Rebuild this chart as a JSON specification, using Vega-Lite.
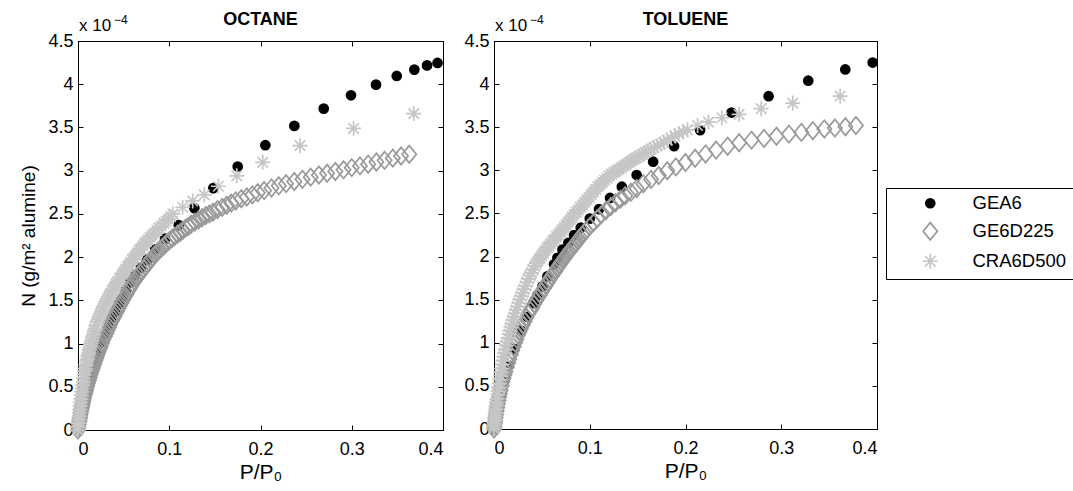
{
  "$schema": "https://vega.github.io/schema/vega-lite/v6.json",
  "background": "white",
  "padding": {"left": 19, "top": 10, "right": 0, "bottom": 0},
  "bounds": "flush",
  "spacing": 51,
  "config": {
    "font": "Liberation Sans",
    "view": {"stroke": "black", "strokeWidth": 1},
    "axis": {"grid": false, "labelFont": "Liberation Sans", "labelFontSize": 18, "labelColor": "black", "titleFont": "Liberation Sans", "titleFontSize": 19, "titleFontWeight": "normal", "titleColor": "black", "domainColor": "black", "tickColor": "black", "tickSize": -5, "format": "~g"},
    "title": {"font": "Liberation Sans", "fontSize": 18, "fontWeight": "bold", "color": "black"},
    "legend": {"labelFont": "Liberation Sans", "labelFontSize": 18.5, "labelColor": "black", "strokeColor": "black", "fillColor": "white", "padding": 6, "symbolSize": 225, "symbolStrokeWidth": 1.7, "rowPadding": 6}
  },
  "datasets": {
    "sup": [{"a": "x 10", "b": "−4"}],
    "oct": [
      {"s":"GEA6","p":0.001,"n":0.06},{"s":"GEA6","p":0.003,"n":0.18},{"s":"GEA6","p":0.006,"n":0.34},{"s":"GEA6","p":0.009,"n":0.48},{"s":"GEA6","p":0.013,"n":0.64},{"s":"GEA6","p":0.017,"n":0.78},{"s":"GEA6","p":0.021,"n":0.9},{"s":"GEA6","p":0.025,"n":1.01},{"s":"GEA6","p":0.029,"n":1.11},{"s":"GEA6","p":0.033,"n":1.21},{"s":"GEA6","p":0.037,"n":1.3},{"s":"GEA6","p":0.041,"n":1.38},{"s":"GEA6","p":0.045,"n":1.46},{"s":"GEA6","p":0.049,"n":1.53},{"s":"GEA6","p":0.0526,"n":1.62},{"s":"GEA6","p":0.057,"n":1.71},{"s":"GEA6","p":0.0622,"n":1.79},{"s":"GEA6","p":0.069,"n":1.88},{"s":"GEA6","p":0.0756,"n":1.967},{"s":"GEA6","p":0.0847,"n":2.09},{"s":"GEA6","p":0.0954,"n":2.213},{"s":"GEA6","p":0.1104,"n":2.371},{"s":"GEA6","p":0.1275,"n":2.567},{"s":"GEA6","p":0.1483,"n":2.798},{"s":"GEA6","p":0.175,"n":3.048},{"s":"GEA6","p":0.2053,"n":3.295},{"s":"GEA6","p":0.2371,"n":3.518},{"s":"GEA6","p":0.2693,"n":3.718},{"s":"GEA6","p":0.2992,"n":3.872},{"s":"GEA6","p":0.3266,"n":3.995},{"s":"GEA6","p":0.3493,"n":4.096},{"s":"GEA6","p":0.3686,"n":4.169},{"s":"GEA6","p":0.3825,"n":4.218},{"s":"GEA6","p":0.394,"n":4.246},
      {"s":"GE6D225","p":0,"n":0},{"s":"GE6D225","p":0.0005,"n":0.035},{"s":"GE6D225","p":0.001,"n":0.07},{"s":"GE6D225","p":0.0015,"n":0.1},{"s":"GE6D225","p":0.002,"n":0.13},{"s":"GE6D225","p":0.0025,"n":0.16},{"s":"GE6D225","p":0.003,"n":0.19},{"s":"GE6D225","p":0.0035,"n":0.22},{"s":"GE6D225","p":0.004,"n":0.245},{"s":"GE6D225","p":0.0045,"n":0.27},{"s":"GE6D225","p":0.005,"n":0.295},{"s":"GE6D225","p":0.0055,"n":0.32},{"s":"GE6D225","p":0.006,"n":0.34},{"s":"GE6D225","p":0.0065,"n":0.365},{"s":"GE6D225","p":0.007,"n":0.39},{"s":"GE6D225","p":0.0075,"n":0.41},{"s":"GE6D225","p":0.008,"n":0.43},{"s":"GE6D225","p":0.0085,"n":0.45},{"s":"GE6D225","p":0.009,"n":0.47},{"s":"GE6D225","p":0.01,"n":0.505},{"s":"GE6D225","p":0.011,"n":0.54},{"s":"GE6D225","p":0.012,"n":0.575},{"s":"GE6D225","p":0.013,"n":0.61},{"s":"GE6D225","p":0.014,"n":0.645},{"s":"GE6D225","p":0.015,"n":0.68},{"s":"GE6D225","p":0.016,"n":0.71},{"s":"GE6D225","p":0.017,"n":0.74},{"s":"GE6D225","p":0.018,"n":0.77},{"s":"GE6D225","p":0.019,"n":0.8},{"s":"GE6D225","p":0.02,"n":0.83},{"s":"GE6D225","p":0.021,"n":0.86},{"s":"GE6D225","p":0.022,"n":0.89},{"s":"GE6D225","p":0.023,"n":0.92},{"s":"GE6D225","p":0.024,"n":0.945},{"s":"GE6D225","p":0.025,"n":0.97},{"s":"GE6D225","p":0.0265,"n":1.01},{"s":"GE6D225","p":0.028,"n":1.05},{"s":"GE6D225","p":0.0295,"n":1.085},{"s":"GE6D225","p":0.031,"n":1.12},{"s":"GE6D225","p":0.0325,"n":1.155},{"s":"GE6D225","p":0.034,"n":1.19},{"s":"GE6D225","p":0.0355,"n":1.225},{"s":"GE6D225","p":0.037,"n":1.26},{"s":"GE6D225","p":0.0385,"n":1.29},{"s":"GE6D225","p":0.04,"n":1.32},{"s":"GE6D225","p":0.0415,"n":1.35},{"s":"GE6D225","p":0.043,"n":1.38},{"s":"GE6D225","p":0.0445,"n":1.41},{"s":"GE6D225","p":0.046,"n":1.44},{"s":"GE6D225","p":0.0475,"n":1.47},{"s":"GE6D225","p":0.049,"n":1.5},{"s":"GE6D225","p":0.0505,"n":1.53},{"s":"GE6D225","p":0.052,"n":1.555},{"s":"GE6D225","p":0.0535,"n":1.58},{"s":"GE6D225","p":0.055,"n":1.61},{"s":"GE6D225","p":0.0565,"n":1.635},{"s":"GE6D225","p":0.058,"n":1.66},{"s":"GE6D225","p":0.06,"n":1.695},{"s":"GE6D225","p":0.062,"n":1.725},{"s":"GE6D225","p":0.064,"n":1.755},{"s":"GE6D225","p":0.066,"n":1.785},{"s":"GE6D225","p":0.068,"n":1.815},{"s":"GE6D225","p":0.07,"n":1.84},{"s":"GE6D225","p":0.072,"n":1.865},{"s":"GE6D225","p":0.074,"n":1.895},{"s":"GE6D225","p":0.076,"n":1.92},{"s":"GE6D225","p":0.078,"n":1.945},{"s":"GE6D225","p":0.08,"n":1.975},{"s":"GE6D225","p":0.082,"n":2.0},{"s":"GE6D225","p":0.0845,"n":2.03},{"s":"GE6D225","p":0.087,"n":2.06},{"s":"GE6D225","p":0.0895,"n":2.085},{"s":"GE6D225","p":0.092,"n":2.11},{"s":"GE6D225","p":0.0945,"n":2.135},{"s":"GE6D225","p":0.097,"n":2.16},{"s":"GE6D225","p":0.1,"n":2.19},{"s":"GE6D225","p":0.103,"n":2.215},{"s":"GE6D225","p":0.106,"n":2.24},{"s":"GE6D225","p":0.109,"n":2.265},{"s":"GE6D225","p":0.112,"n":2.285},{"s":"GE6D225","p":0.115,"n":2.31},{"s":"GE6D225","p":0.118,"n":2.335},{"s":"GE6D225","p":0.121,"n":2.355},{"s":"GE6D225","p":0.124,"n":2.38},{"s":"GE6D225","p":0.128,"n":2.405},{"s":"GE6D225","p":0.132,"n":2.43},{"s":"GE6D225","p":0.136,"n":2.455},{"s":"GE6D225","p":0.14,"n":2.48},{"s":"GE6D225","p":0.144,"n":2.5},{"s":"GE6D225","p":0.148,"n":2.52},{"s":"GE6D225","p":0.153,"n":2.55},{"s":"GE6D225","p":0.158,"n":2.575},{"s":"GE6D225","p":0.163,"n":2.6},{"s":"GE6D225","p":0.168,"n":2.625},{"s":"GE6D225","p":0.173,"n":2.65},{"s":"GE6D225","p":0.179,"n":2.675},{"s":"GE6D225","p":0.185,"n":2.695},{"s":"GE6D225","p":0.191,"n":2.72},{"s":"GE6D225","p":0.197,"n":2.745},{"s":"GE6D225","p":0.204,"n":2.77},{"s":"GE6D225","p":0.212,"n":2.8},{"s":"GE6D225","p":0.22,"n":2.825},{"s":"GE6D225","p":0.228,"n":2.85},{"s":"GE6D225","p":0.237,"n":2.875},{"s":"GE6D225","p":0.246,"n":2.9},{"s":"GE6D225","p":0.255,"n":2.925},{"s":"GE6D225","p":0.264,"n":2.95},{"s":"GE6D225","p":0.273,"n":2.97},{"s":"GE6D225","p":0.282,"n":2.99},{"s":"GE6D225","p":0.291,"n":3.01},{"s":"GE6D225","p":0.3,"n":3.035},{"s":"GE6D225","p":0.309,"n":3.055},{"s":"GE6D225","p":0.318,"n":3.075},{"s":"GE6D225","p":0.327,"n":3.1},{"s":"GE6D225","p":0.336,"n":3.12},{"s":"GE6D225","p":0.345,"n":3.145},{"s":"GE6D225","p":0.354,"n":3.17},{"s":"GE6D225","p":0.363,"n":3.19},
      {"s":"CRA6D500","p":0,"n":0},{"s":"CRA6D500","p":0.0003,"n":0.04},{"s":"CRA6D500","p":0.0006,"n":0.08},{"s":"CRA6D500","p":0.0009,"n":0.12},{"s":"CRA6D500","p":0.0013,"n":0.16},{"s":"CRA6D500","p":0.0016,"n":0.2},{"s":"CRA6D500","p":0.002,"n":0.24},{"s":"CRA6D500","p":0.0024,"n":0.28},{"s":"CRA6D500","p":0.0028,"n":0.32},{"s":"CRA6D500","p":0.0032,"n":0.36},{"s":"CRA6D500","p":0.0036,"n":0.4},{"s":"CRA6D500","p":0.0041,"n":0.44},{"s":"CRA6D500","p":0.0046,"n":0.48},{"s":"CRA6D500","p":0.0051,"n":0.52},{"s":"CRA6D500","p":0.0056,"n":0.56},{"s":"CRA6D500","p":0.0062,"n":0.6},{"s":"CRA6D500","p":0.0068,"n":0.64},{"s":"CRA6D500","p":0.0074,"n":0.68},{"s":"CRA6D500","p":0.008,"n":0.71},{"s":"CRA6D500","p":0.0087,"n":0.75},{"s":"CRA6D500","p":0.0094,"n":0.79},{"s":"CRA6D500","p":0.0101,"n":0.82},{"s":"CRA6D500","p":0.0108,"n":0.86},{"s":"CRA6D500","p":0.0116,"n":0.89},{"s":"CRA6D500","p":0.0124,"n":0.93},{"s":"CRA6D500","p":0.0132,"n":0.96},{"s":"CRA6D500","p":0.014,"n":1.0},{"s":"CRA6D500","p":0.0149,"n":1.03},{"s":"CRA6D500","p":0.0158,"n":1.07},{"s":"CRA6D500","p":0.0168,"n":1.1},{"s":"CRA6D500","p":0.0178,"n":1.14},{"s":"CRA6D500","p":0.0188,"n":1.17},{"s":"CRA6D500","p":0.0199,"n":1.21},{"s":"CRA6D500","p":0.021,"n":1.25},{"s":"CRA6D500","p":0.0222,"n":1.28},{"s":"CRA6D500","p":0.0234,"n":1.31},{"s":"CRA6D500","p":0.0246,"n":1.34},{"s":"CRA6D500","p":0.0258,"n":1.37},{"s":"CRA6D500","p":0.0271,"n":1.4},{"s":"CRA6D500","p":0.0284,"n":1.43},{"s":"CRA6D500","p":0.0298,"n":1.46},{"s":"CRA6D500","p":0.0312,"n":1.49},{"s":"CRA6D500","p":0.0327,"n":1.52},{"s":"CRA6D500","p":0.0342,"n":1.55},{"s":"CRA6D500","p":0.0357,"n":1.58},{"s":"CRA6D500","p":0.0372,"n":1.61},{"s":"CRA6D500","p":0.0388,"n":1.63},{"s":"CRA6D500","p":0.0404,"n":1.66},{"s":"CRA6D500","p":0.042,"n":1.69},{"s":"CRA6D500","p":0.0437,"n":1.72},{"s":"CRA6D500","p":0.0454,"n":1.75},{"s":"CRA6D500","p":0.0471,"n":1.77},{"s":"CRA6D500","p":0.0488,"n":1.8},{"s":"CRA6D500","p":0.0506,"n":1.83},{"s":"CRA6D500","p":0.0524,"n":1.86},{"s":"CRA6D500","p":0.0542,"n":1.89},{"s":"CRA6D500","p":0.056,"n":1.91},{"s":"CRA6D500","p":0.0578,"n":1.94},{"s":"CRA6D500","p":0.0596,"n":1.97},{"s":"CRA6D500","p":0.0614,"n":1.99},{"s":"CRA6D500","p":0.0633,"n":2.02},{"s":"CRA6D500","p":0.0652,"n":2.05},{"s":"CRA6D500","p":0.0671,"n":2.08},{"s":"CRA6D500","p":0.069,"n":2.1},{"s":"CRA6D500","p":0.071,"n":2.13},{"s":"CRA6D500","p":0.073,"n":2.155},{"s":"CRA6D500","p":0.075,"n":2.18},{"s":"CRA6D500","p":0.077,"n":2.2},{"s":"CRA6D500","p":0.079,"n":2.23},{"s":"CRA6D500","p":0.0815,"n":2.255},{"s":"CRA6D500","p":0.084,"n":2.28},{"s":"CRA6D500","p":0.0865,"n":2.31},{"s":"CRA6D500","p":0.089,"n":2.335},{"s":"CRA6D500","p":0.0915,"n":2.36},{"s":"CRA6D500","p":0.094,"n":2.39},{"s":"CRA6D500","p":0.0965,"n":2.415},{"s":"CRA6D500","p":0.099,"n":2.44},{"s":"CRA6D500","p":0.1015,"n":2.47},{"s":"CRA6D500","p":0.104,"n":2.5},{"s":"CRA6D500","p":0.1147,"n":2.577},{"s":"CRA6D500","p":0.1257,"n":2.65},{"s":"CRA6D500","p":0.1384,"n":2.72},{"s":"CRA6D500","p":0.1538,"n":2.82},{"s":"CRA6D500","p":0.174,"n":2.94},{"s":"CRA6D500","p":0.2024,"n":3.097},{"s":"CRA6D500","p":0.2433,"n":3.289},{"s":"CRA6D500","p":0.302,"n":3.49},{"s":"CRA6D500","p":0.368,"n":3.66}
    ],
    "tol": [
      {"s":"GEA6","p":0,"n":0},{"s":"GEA6","p":0.0015,"n":0.1},{"s":"GEA6","p":0.003,"n":0.2},{"s":"GEA6","p":0.006,"n":0.37},{"s":"GEA6","p":0.01,"n":0.55},{"s":"GEA6","p":0.015,"n":0.74},{"s":"GEA6","p":0.021,"n":0.93},{"s":"GEA6","p":0.028,"n":1.14},{"s":"GEA6","p":0.035,"n":1.3},{"s":"GEA6","p":0.0418,"n":1.46},{"s":"GEA6","p":0.0454,"n":1.55},{"s":"GEA6","p":0.0506,"n":1.655},{"s":"GEA6","p":0.0558,"n":1.77},{"s":"GEA6","p":0.0627,"n":1.91},{"s":"GEA6","p":0.0662,"n":1.985},{"s":"GEA6","p":0.0715,"n":2.08},{"s":"GEA6","p":0.0777,"n":2.16},{"s":"GEA6","p":0.0836,"n":2.25},{"s":"GEA6","p":0.0906,"n":2.335},{"s":"GEA6","p":0.1,"n":2.44},{"s":"GEA6","p":0.1097,"n":2.55},{"s":"GEA6","p":0.1212,"n":2.68},{"s":"GEA6","p":0.1335,"n":2.81},{"s":"GEA6","p":0.149,"n":2.946},{"s":"GEA6","p":0.1662,"n":3.1},{"s":"GEA6","p":0.1881,"n":3.28},{"s":"GEA6","p":0.2153,"n":3.466},{"s":"GEA6","p":0.2481,"n":3.67},{"s":"GEA6","p":0.2868,"n":3.86},{"s":"GEA6","p":0.3282,"n":4.04},{"s":"GEA6","p":0.3669,"n":4.17},{"s":"GEA6","p":0.3955,"n":4.25},
      {"s":"GE6D225","p":0,"n":0},{"s":"GE6D225","p":0.0004,"n":0.03},{"s":"GE6D225","p":0.0008,"n":0.06},{"s":"GE6D225","p":0.0012,"n":0.09},{"s":"GE6D225","p":0.0017,"n":0.13},{"s":"GE6D225","p":0.0022,"n":0.165},{"s":"GE6D225","p":0.0028,"n":0.21},{"s":"GE6D225","p":0.0034,"n":0.25},{"s":"GE6D225","p":0.004,"n":0.29},{"s":"GE6D225","p":0.0047,"n":0.33},{"s":"GE6D225","p":0.0055,"n":0.37},{"s":"GE6D225","p":0.0062,"n":0.41},{"s":"GE6D225","p":0.007,"n":0.45},{"s":"GE6D225","p":0.008,"n":0.5},{"s":"GE6D225","p":0.009,"n":0.55},{"s":"GE6D225","p":0.01,"n":0.59},{"s":"GE6D225","p":0.011,"n":0.63},{"s":"GE6D225","p":0.012,"n":0.665},{"s":"GE6D225","p":0.0135,"n":0.72},{"s":"GE6D225","p":0.0148,"n":0.765},{"s":"GE6D225","p":0.016,"n":0.81},{"s":"GE6D225","p":0.0175,"n":0.86},{"s":"GE6D225","p":0.019,"n":0.91},{"s":"GE6D225","p":0.0205,"n":0.955},{"s":"GE6D225","p":0.022,"n":1.0},{"s":"GE6D225","p":0.0235,"n":1.045},{"s":"GE6D225","p":0.025,"n":1.09},{"s":"GE6D225","p":0.0265,"n":1.125},{"s":"GE6D225","p":0.028,"n":1.16},{"s":"GE6D225","p":0.03,"n":1.205},{"s":"GE6D225","p":0.032,"n":1.25},{"s":"GE6D225","p":0.034,"n":1.295},{"s":"GE6D225","p":0.036,"n":1.34},{"s":"GE6D225","p":0.038,"n":1.375},{"s":"GE6D225","p":0.04,"n":1.41},{"s":"GE6D225","p":0.042,"n":1.45},{"s":"GE6D225","p":0.044,"n":1.49},{"s":"GE6D225","p":0.046,"n":1.525},{"s":"GE6D225","p":0.048,"n":1.56},{"s":"GE6D225","p":0.05,"n":1.595},{"s":"GE6D225","p":0.052,"n":1.63},{"s":"GE6D225","p":0.054,"n":1.665},{"s":"GE6D225","p":0.056,"n":1.7},{"s":"GE6D225","p":0.058,"n":1.735},{"s":"GE6D225","p":0.06,"n":1.77},{"s":"GE6D225","p":0.062,"n":1.8},{"s":"GE6D225","p":0.064,"n":1.83},{"s":"GE6D225","p":0.066,"n":1.865},{"s":"GE6D225","p":0.068,"n":1.9},{"s":"GE6D225","p":0.07,"n":1.93},{"s":"GE6D225","p":0.072,"n":1.96},{"s":"GE6D225","p":0.074,"n":1.99},{"s":"GE6D225","p":0.076,"n":2.02},{"s":"GE6D225","p":0.078,"n":2.05},{"s":"GE6D225","p":0.08,"n":2.08},{"s":"GE6D225","p":0.082,"n":2.105},{"s":"GE6D225","p":0.084,"n":2.135},{"s":"GE6D225","p":0.086,"n":2.16},{"s":"GE6D225","p":0.088,"n":2.19},{"s":"GE6D225","p":0.09,"n":2.22},{"s":"GE6D225","p":0.092,"n":2.25},{"s":"GE6D225","p":0.094,"n":2.275},{"s":"GE6D225","p":0.096,"n":2.3},{"s":"GE6D225","p":0.1,"n":2.35},{"s":"GE6D225","p":0.104,"n":2.395},{"s":"GE6D225","p":0.108,"n":2.44},{"s":"GE6D225","p":0.112,"n":2.485},{"s":"GE6D225","p":0.117,"n":2.535},{"s":"GE6D225","p":0.122,"n":2.58},{"s":"GE6D225","p":0.127,"n":2.625},{"s":"GE6D225","p":0.132,"n":2.665},{"s":"GE6D225","p":0.137,"n":2.705},{"s":"GE6D225","p":0.143,"n":2.745},{"s":"GE6D225","p":0.149,"n":2.79},{"s":"GE6D225","p":0.156,"n":2.845},{"s":"GE6D225","p":0.164,"n":2.895},{"s":"GE6D225","p":0.172,"n":2.94},{"s":"GE6D225","p":0.181,"n":2.995},{"s":"GE6D225","p":0.19,"n":3.04},{"s":"GE6D225","p":0.2,"n":3.09},{"s":"GE6D225","p":0.21,"n":3.14},{"s":"GE6D225","p":0.221,"n":3.19},{"s":"GE6D225","p":0.232,"n":3.235},{"s":"GE6D225","p":0.244,"n":3.28},{"s":"GE6D225","p":0.256,"n":3.32},{"s":"GE6D225","p":0.269,"n":3.35},{"s":"GE6D225","p":0.282,"n":3.37},{"s":"GE6D225","p":0.295,"n":3.395},{"s":"GE6D225","p":0.308,"n":3.42},{"s":"GE6D225","p":0.321,"n":3.44},{"s":"GE6D225","p":0.333,"n":3.46},{"s":"GE6D225","p":0.345,"n":3.48},{"s":"GE6D225","p":0.356,"n":3.49},{"s":"GE6D225","p":0.367,"n":3.505},{"s":"GE6D225","p":0.378,"n":3.52},
      {"s":"CRA6D500","p":0,"n":0},{"s":"CRA6D500","p":0.0002,"n":0.03},{"s":"CRA6D500","p":0.0004,"n":0.06},{"s":"CRA6D500","p":0.0006,"n":0.09},{"s":"CRA6D500","p":0.0009,"n":0.12},{"s":"CRA6D500","p":0.0012,"n":0.155},{"s":"CRA6D500","p":0.0015,"n":0.19},{"s":"CRA6D500","p":0.0019,"n":0.23},{"s":"CRA6D500","p":0.0023,"n":0.27},{"s":"CRA6D500","p":0.0027,"n":0.31},{"s":"CRA6D500","p":0.0032,"n":0.35},{"s":"CRA6D500","p":0.0037,"n":0.4},{"s":"CRA6D500","p":0.0042,"n":0.44},{"s":"CRA6D500","p":0.0048,"n":0.48},{"s":"CRA6D500","p":0.0054,"n":0.53},{"s":"CRA6D500","p":0.006,"n":0.57},{"s":"CRA6D500","p":0.0067,"n":0.62},{"s":"CRA6D500","p":0.0074,"n":0.66},{"s":"CRA6D500","p":0.0081,"n":0.7},{"s":"CRA6D500","p":0.0088,"n":0.75},{"s":"CRA6D500","p":0.0096,"n":0.79},{"s":"CRA6D500","p":0.0104,"n":0.84},{"s":"CRA6D500","p":0.0112,"n":0.88},{"s":"CRA6D500","p":0.012,"n":0.92},{"s":"CRA6D500","p":0.0129,"n":0.97},{"s":"CRA6D500","p":0.0138,"n":1.01},{"s":"CRA6D500","p":0.0147,"n":1.05},{"s":"CRA6D500","p":0.0157,"n":1.1},{"s":"CRA6D500","p":0.0167,"n":1.14},{"s":"CRA6D500","p":0.0177,"n":1.18},{"s":"CRA6D500","p":0.0188,"n":1.22},{"s":"CRA6D500","p":0.0199,"n":1.26},{"s":"CRA6D500","p":0.021,"n":1.3},{"s":"CRA6D500","p":0.0222,"n":1.34},{"s":"CRA6D500","p":0.0234,"n":1.38},{"s":"CRA6D500","p":0.0246,"n":1.42},{"s":"CRA6D500","p":0.0259,"n":1.46},{"s":"CRA6D500","p":0.0272,"n":1.5},{"s":"CRA6D500","p":0.0286,"n":1.54},{"s":"CRA6D500","p":0.03,"n":1.58},{"s":"CRA6D500","p":0.0315,"n":1.62},{"s":"CRA6D500","p":0.033,"n":1.66},{"s":"CRA6D500","p":0.0345,"n":1.7},{"s":"CRA6D500","p":0.036,"n":1.74},{"s":"CRA6D500","p":0.0376,"n":1.78},{"s":"CRA6D500","p":0.0392,"n":1.81},{"s":"CRA6D500","p":0.0408,"n":1.85},{"s":"CRA6D500","p":0.0425,"n":1.89},{"s":"CRA6D500","p":0.0442,"n":1.92},{"s":"CRA6D500","p":0.046,"n":1.95},{"s":"CRA6D500","p":0.0478,"n":1.98},{"s":"CRA6D500","p":0.0496,"n":2.01},{"s":"CRA6D500","p":0.0515,"n":2.04},{"s":"CRA6D500","p":0.0534,"n":2.07},{"s":"CRA6D500","p":0.0553,"n":2.1},{"s":"CRA6D500","p":0.0572,"n":2.12},{"s":"CRA6D500","p":0.0592,"n":2.15},{"s":"CRA6D500","p":0.0612,"n":2.18},{"s":"CRA6D500","p":0.0632,"n":2.2},{"s":"CRA6D500","p":0.0652,"n":2.23},{"s":"CRA6D500","p":0.0672,"n":2.255},{"s":"CRA6D500","p":0.0692,"n":2.28},{"s":"CRA6D500","p":0.0712,"n":2.31},{"s":"CRA6D500","p":0.0733,"n":2.34},{"s":"CRA6D500","p":0.0754,"n":2.37},{"s":"CRA6D500","p":0.0775,"n":2.4},{"s":"CRA6D500","p":0.0796,"n":2.43},{"s":"CRA6D500","p":0.0817,"n":2.46},{"s":"CRA6D500","p":0.0838,"n":2.49},{"s":"CRA6D500","p":0.086,"n":2.515},{"s":"CRA6D500","p":0.0882,"n":2.54},{"s":"CRA6D500","p":0.0904,"n":2.57},{"s":"CRA6D500","p":0.0926,"n":2.6},{"s":"CRA6D500","p":0.0948,"n":2.63},{"s":"CRA6D500","p":0.097,"n":2.66},{"s":"CRA6D500","p":0.0993,"n":2.69},{"s":"CRA6D500","p":0.1016,"n":2.72},{"s":"CRA6D500","p":0.1039,"n":2.75},{"s":"CRA6D500","p":0.1062,"n":2.78},{"s":"CRA6D500","p":0.1085,"n":2.81},{"s":"CRA6D500","p":0.1108,"n":2.835},{"s":"CRA6D500","p":0.1132,"n":2.86},{"s":"CRA6D500","p":0.1156,"n":2.885},{"s":"CRA6D500","p":0.118,"n":2.91},{"s":"CRA6D500","p":0.1204,"n":2.935},{"s":"CRA6D500","p":0.1228,"n":2.955},{"s":"CRA6D500","p":0.1253,"n":2.975},{"s":"CRA6D500","p":0.1278,"n":2.99},{"s":"CRA6D500","p":0.1303,"n":3.01},{"s":"CRA6D500","p":0.1328,"n":3.03},{"s":"CRA6D500","p":0.1355,"n":3.05},{"s":"CRA6D500","p":0.1382,"n":3.07},{"s":"CRA6D500","p":0.1409,"n":3.09},{"s":"CRA6D500","p":0.1436,"n":3.11},{"s":"CRA6D500","p":0.1463,"n":3.13},{"s":"CRA6D500","p":0.149,"n":3.145},{"s":"CRA6D500","p":0.152,"n":3.165},{"s":"CRA6D500","p":0.155,"n":3.185},{"s":"CRA6D500","p":0.158,"n":3.205},{"s":"CRA6D500","p":0.161,"n":3.225},{"s":"CRA6D500","p":0.164,"n":3.245},{"s":"CRA6D500","p":0.167,"n":3.265},{"s":"CRA6D500","p":0.1705,"n":3.285},{"s":"CRA6D500","p":0.174,"n":3.305},{"s":"CRA6D500","p":0.1775,"n":3.325},{"s":"CRA6D500","p":0.181,"n":3.35},{"s":"CRA6D500","p":0.185,"n":3.375},{"s":"CRA6D500","p":0.189,"n":3.4},{"s":"CRA6D500","p":0.193,"n":3.425},{"s":"CRA6D500","p":0.1975,"n":3.45},{"s":"CRA6D500","p":0.2021,"n":3.47},{"s":"CRA6D500","p":0.2126,"n":3.52},{"s":"CRA6D500","p":0.224,"n":3.56},{"s":"CRA6D500","p":0.238,"n":3.61},{"s":"CRA6D500","p":0.256,"n":3.65},{"s":"CRA6D500","p":0.279,"n":3.715},{"s":"CRA6D500","p":0.312,"n":3.78},{"s":"CRA6D500","p":0.3615,"n":3.86}
    ]
  },
  "hconcat": [
    {
      "width": 365,
      "height": 389,
      "title": {"text": "OCTANE", "offset": -15},
      "layer": [
        {
          "data": {"name": "oct"},
          "mark": {"type": "point", "filled": false, "size": 225, "strokeWidth": 1.7, "opacity": 1},
          "encoding": {
            "x": {"field": "p", "type": "quantitative", "scale": {"domain": [0, 0.4], "nice": false, "zero": false}, "axis": {"orient": "bottom", "values": [0, 0.1, 0.2, 0.3, 0.4], "labelPadding": 15, "title": "P/P₀", "titleFontSize": 21, "titlePadding": 3}},
            "y": {"field": "n", "type": "quantitative", "scale": {"domain": [0, 4.5], "nice": false, "zero": false}, "axis": {"orient": "left", "values": [0, 0.5, 1, 1.5, 2, 2.5, 3, 3.5, 4, 4.5], "labelPadding": 10, "title": "N (g/m² alumine)", "titlePadding": 9}},
            "shape": {"field": "s", "type": "nominal", "scale": {"domain": ["GEA6", "GE6D225", "CRA6D500"], "range": ["M-0.6,0A0.6,0.6,0,1,0,0.6,0A0.6,0.6,0,1,0,-0.6,0Z", "M0,-1.15L0.95,0L0,1.15L-0.95,0Z", "M0,-1L0,1M-1,0L1,0M-0.7,-0.7L0.7,0.7M-0.7,0.7L0.7,-0.7"]}, "legend": {"title": null, "orient": "none", "legendX": 808, "legendY": 147, "symbolOffset": 29, "labelOffset": 33, "padding": 6, "rowPadding": 6}},
            "stroke": {"field": "s", "type": "nominal", "scale": {"domain": ["GEA6", "GE6D225", "CRA6D500"], "range": ["#000000", "#999999", "#c6c6c6"]}, "legend": {"title": null, "orient": "none", "legendX": 808, "legendY": 147, "symbolOffset": 29, "labelOffset": 33, "padding": 6, "rowPadding": 6}},
            "fill": {"field": "s", "type": "nominal", "scale": {"domain": ["GEA6", "GE6D225", "CRA6D500"], "range": ["#000000", "transparent", "transparent"]}, "legend": {"title": null, "orient": "none", "legendX": 808, "legendY": 147, "symbolOffset": 29, "labelOffset": 33, "padding": 6, "rowPadding": 6}}
          }
        },
        {
          "data": {"name": "oct"},
          "mark": {"type": "point", "opacity": 0},
          "encoding": {
            "x": {"field": "p", "type": "quantitative", "scale": {"domain": [0, 0.4], "nice": false, "zero": false}, "axis": {"orient": "top", "values": [0, 0.1, 0.2, 0.3, 0.4], "labels": false, "title": null}},
            "y": {"field": "n", "type": "quantitative", "scale": {"domain": [0, 4.5], "nice": false, "zero": false}, "axis": {"orient": "right", "values": [0, 0.5, 1, 1.5, 2, 2.5, 3, 3.5, 4, 4.5], "labels": false, "title": null}}
          }
        },
        {
          "data": {"name": "sup"},
          "mark": {"type": "text", "align": "left", "baseline": "alphabetic", "dx": 1, "dy": -10, "fontSize": 17, "fontWeight": "normal", "font": "Liberation Sans", "color": "black"},
          "encoding": {
            "x": {"datum": 0, "type": "quantitative", "axis": null},
            "y": {"datum": 4.5, "type": "quantitative", "axis": null},
            "text": {"field": "a"}
          }
        },
        {
          "data": {"name": "sup"},
          "mark": {"type": "text", "align": "left", "baseline": "alphabetic", "dx": 36, "dy": -17, "fontSize": 12, "fontWeight": "normal", "font": "Liberation Sans", "color": "black"},
          "encoding": {
            "x": {"datum": 0, "type": "quantitative", "axis": null},
            "y": {"datum": 4.5, "type": "quantitative", "axis": null},
            "text": {"field": "b"}
          }
        }
      ],
      "resolve": {"axis": {"x": "independent", "y": "independent"}}
    },
    {
      "width": 383,
      "height": 388,
      "title": {"text": "TOLUENE", "offset": -15},
      "layer": [
        {
          "data": {"name": "tol"},
          "mark": {"type": "point", "filled": false, "size": 225, "strokeWidth": 1.7, "opacity": 1},
          "encoding": {
            "x": {"field": "p", "type": "quantitative", "scale": {"domain": [0, 0.4], "nice": false, "zero": false}, "axis": {"orient": "bottom", "values": [0, 0.1, 0.2, 0.3, 0.4], "labelPadding": 15, "title": "P/P₀", "titleFontSize": 21, "titlePadding": 3}},
            "y": {"field": "n", "type": "quantitative", "scale": {"domain": [0, 4.5], "nice": false, "zero": false}, "axis": {"orient": "left", "values": [0, 0.5, 1, 1.5, 2, 2.5, 3, 3.5, 4, 4.5], "labelPadding": 10, "title": null}},
            "shape": {"field": "s", "type": "nominal", "scale": {"domain": ["GEA6", "GE6D225", "CRA6D500"], "range": ["M-0.6,0A0.6,0.6,0,1,0,0.6,0A0.6,0.6,0,1,0,-0.6,0Z", "M0,-1.15L0.95,0L0,1.15L-0.95,0Z", "M0,-1L0,1M-1,0L1,0M-0.7,-0.7L0.7,0.7M-0.7,0.7L0.7,-0.7"]}, "legend": {"title": null, "orient": "none", "legendX": 808, "legendY": 147, "symbolOffset": 29, "labelOffset": 33, "padding": 6, "rowPadding": 6}},
            "stroke": {"field": "s", "type": "nominal", "scale": {"domain": ["GEA6", "GE6D225", "CRA6D500"], "range": ["#000000", "#999999", "#c6c6c6"]}, "legend": {"title": null, "orient": "none", "legendX": 808, "legendY": 147, "symbolOffset": 29, "labelOffset": 33, "padding": 6, "rowPadding": 6}},
            "fill": {"field": "s", "type": "nominal", "scale": {"domain": ["GEA6", "GE6D225", "CRA6D500"], "range": ["#000000", "transparent", "transparent"]}, "legend": {"title": null, "orient": "none", "legendX": 808, "legendY": 147, "symbolOffset": 29, "labelOffset": 33, "padding": 6, "rowPadding": 6}}
          }
        },
        {
          "data": {"name": "tol"},
          "mark": {"type": "point", "opacity": 0},
          "encoding": {
            "x": {"field": "p", "type": "quantitative", "scale": {"domain": [0, 0.4], "nice": false, "zero": false}, "axis": {"orient": "top", "values": [0, 0.1, 0.2, 0.3, 0.4], "labels": false, "title": null}},
            "y": {"field": "n", "type": "quantitative", "scale": {"domain": [0, 4.5], "nice": false, "zero": false}, "axis": {"orient": "right", "values": [0, 0.5, 1, 1.5, 2, 2.5, 3, 3.5, 4, 4.5], "labels": false, "title": null}}
          }
        },
        {
          "data": {"name": "sup"},
          "mark": {"type": "text", "align": "left", "baseline": "alphabetic", "dx": 1, "dy": -10, "fontSize": 17, "fontWeight": "normal", "font": "Liberation Sans", "color": "black"},
          "encoding": {
            "x": {"datum": 0, "type": "quantitative", "axis": null},
            "y": {"datum": 4.5, "type": "quantitative", "axis": null},
            "text": {"field": "a"}
          }
        },
        {
          "data": {"name": "sup"},
          "mark": {"type": "text", "align": "left", "baseline": "alphabetic", "dx": 36, "dy": -17, "fontSize": 12, "fontWeight": "normal", "font": "Liberation Sans", "color": "black"},
          "encoding": {
            "x": {"datum": 0, "type": "quantitative", "axis": null},
            "y": {"datum": 4.5, "type": "quantitative", "axis": null},
            "text": {"field": "b"}
          }
        }
      ],
      "resolve": {"axis": {"x": "independent", "y": "independent"}}
    }
  ],
  "resolve": {"scale": {"shape": "shared", "stroke": "shared", "fill": "shared"}, "legend": {"shape": "shared", "stroke": "shared", "fill": "shared"}}
}
